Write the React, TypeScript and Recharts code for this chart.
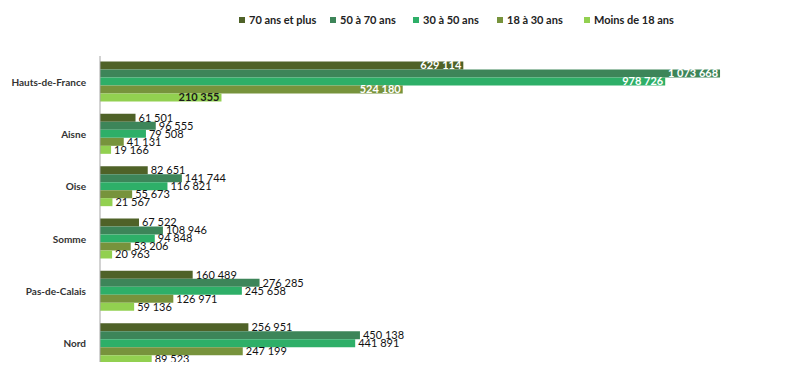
import { Bar, BarChart, LabelList, XAxis, YAxis } from 'recharts';

const departements = ['Hauts-de-France', 'Aisne', 'Oise', 'Somme', 'Pas-de-Calais', 'Nord'];
const plus70 = [629114, 61501, 82651, 67522, 160489, 256951];
const de50a70 = [1073668, 96555, 141744, 108946, 276285, 450138];
const de30a50 = [978726, 79508, 116821, 94848, 245658, 441891];
const de18a30 = [524180, 41131, 55673, 53206, 126971, 247199];
const moins18 = [210355, 19166, 21567, 20963, 59136, 89523];

const series = [
  { key: 'plus70', name: '70 ans et plus', color: '#4f6228', values: plus70, insideFill: '#ffffff' },
  { key: 'de50a70', name: '50 à 70 ans', color: '#3d8559', values: de50a70, insideFill: '#ffffff' },
  { key: 'de30a50', name: '30 à 50 ans', color: '#2eaf68', values: de30a50, insideFill: '#ffffff' },
  { key: 'de18a30', name: '18 à 30 ans', color: '#77933c', values: de18a30, insideFill: '#ffffff' },
  { key: 'moins18', name: 'Moins de 18 ans', color: '#92d050', values: moins18, insideFill: '#1a1a1a' },
];

const data = departements.map((d, i) => {
  const row: Record<string, string | number> = { name: d };
  series.forEach((s) => {
    row[s.key] = s.values[i];
  });
  return row;
});

const FONT = 'Lato, "Open Sans", sans-serif';

function fmt(v: number): string {
  return String(v).replace(/\B(?=(\d{3})+(?!\d))/g, ' ');
}

function makeLabel(insideFill: string) {
  return (props: any) => {
    const { x, y, width, height, value, index } = props;
    const cy = Number(y) + Number(height) / 2;
    if (index === 0) {
      return (
        <text
          x={Number(x) + Number(width) - 2}
          y={cy}
          dy="0.36em"
          textAnchor="end"
          fontSize={11}
          fontFamily={FONT}
          fontWeight={700}
          fill={insideFill}
        >
          {fmt(Number(value))}
        </text>
      );
    }
    return (
      <text
        x={Number(x) + Number(width) + 3}
        y={cy}
        dy="0.36em"
        textAnchor="start"
        fontSize={11}
        fontFamily={FONT}
        fill="#111"
      >
        {fmt(Number(value))}
      </text>
    );
  };
}

// legend drawn as plain html over the chart so it doesn't eat plot height
function LegendRow() {
  const pos = [239, 330, 413, 497, 584];
  return (
    <div style={{ position: 'absolute', left: 0, top: 13, width: 800, height: 16 }}>
      {series.map((s, i) => (
        <div
          key={s.key}
          style={{
            position: 'absolute',
            left: pos[i],
            top: 0,
            display: 'flex',
            alignItems: 'center',
            fontFamily: FONT,
            fontWeight: 700,
            fontSize: 11,
            color: '#222',
            whiteSpace: 'nowrap',
          }}
        >
          <span style={{ width: 6, height: 6, background: s.color, marginRight: 4, display: 'inline-block' }} />
          {s.name}
        </div>
      ))}
    </div>
  );
}

export default function App() {
  return (
    <div style={{ margin: -8, width: 800, height: 370, background: '#fff', position: 'relative' }}>
      <BarChart
        width={800}
        height={370}
        data={data}
        layout="vertical"
        margin={{ top: 56, right: 7, bottom: 0, left: 0 }}
        barCategoryGap="10.5%"
        barGap={0}
      >
        <XAxis type="number" hide domain={[0, 1200000]} />
        <YAxis
          type="category"
          dataKey="name"
          width={100}
          tickLine={false}
          axisLine={{ stroke: '#a6a6a6' }}
          tick={{ fontSize: 10, fontWeight: 700, fill: '#333', fontFamily: FONT }}
          tickMargin={8}
        />
        {series.map((s) => (
          <Bar key={s.key} dataKey={s.key} name={s.name} fill={s.color} isAnimationActive={false}>
            <LabelList dataKey={s.key} content={makeLabel(s.insideFill)} />
          </Bar>
        ))}
      </BarChart>
      <LegendRow />
    </div>
  );
}
